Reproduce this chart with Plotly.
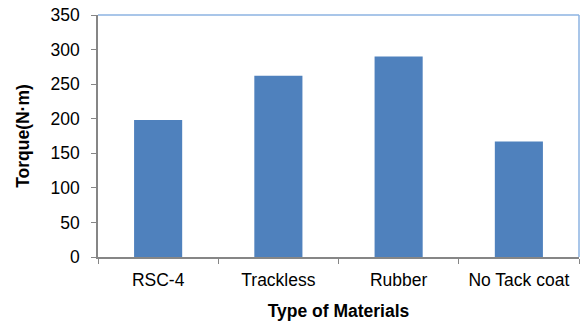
import plotly.graph_objects as go

# Torque measured for each tack-coat material
materials = ["RSC-4", "Trackless", "Rubber", "No Tack coat"]
torque = [198, 262, 290, 167]
y_ticks = [0, 50, 100, 150, 200, 250, 300, 350]

fig = go.Figure(
    go.Bar(
        x=materials,
        y=torque,
        marker=dict(color="#4F81BD", line=dict(width=0)),
        width=0.4,
    )
)

fig.update_layout(
    width=582,
    height=323,
    margin=dict(l=98, r=3, t=15, b=66),
    paper_bgcolor="white",
    plot_bgcolor="white",
    showlegend=False,
    font=dict(family="Liberation Sans, Arial, sans-serif", color="black", size=17.5),
    shapes=[
        # top and right frame of the plot area
        dict(type="line", xref="paper", yref="paper", x0=0, x1=1, y0=1, y1=1,
             line=dict(color="#8DB3E2", width=1.5)),
        dict(type="line", xref="paper", yref="paper", x0=1, x1=1, y0=0, y1=1,
             line=dict(color="#8DB3E2", width=1.5)),
    ],
)

fig.update_xaxes(
    showline=True,
    linecolor="#868686",
    linewidth=1.5,
    ticks="outside",
    tickson="boundaries",
    ticklen=5,
    tickcolor="#868686",
    showgrid=False,
    tickfont=dict(size=17.5),
    ticklabelstandoff=6,
    title=dict(text="<b>Type of Materials</b>", font=dict(size=17.5), standoff=16),
)

fig.update_yaxes(
    range=[0, 350],
    tickvals=y_ticks,
    showline=True,
    linecolor="#868686",
    linewidth=1.5,
    ticks="outside",
    ticklen=5,
    tickcolor="#868686",
    showgrid=False,
    zeroline=False,
    tickfont=dict(size=17.5),
    ticklabelstandoff=8,
    title=dict(text="<b>Torque(N·m)</b>", font=dict(size=17.5), standoff=16),
)

fig.write_html("out.html")
